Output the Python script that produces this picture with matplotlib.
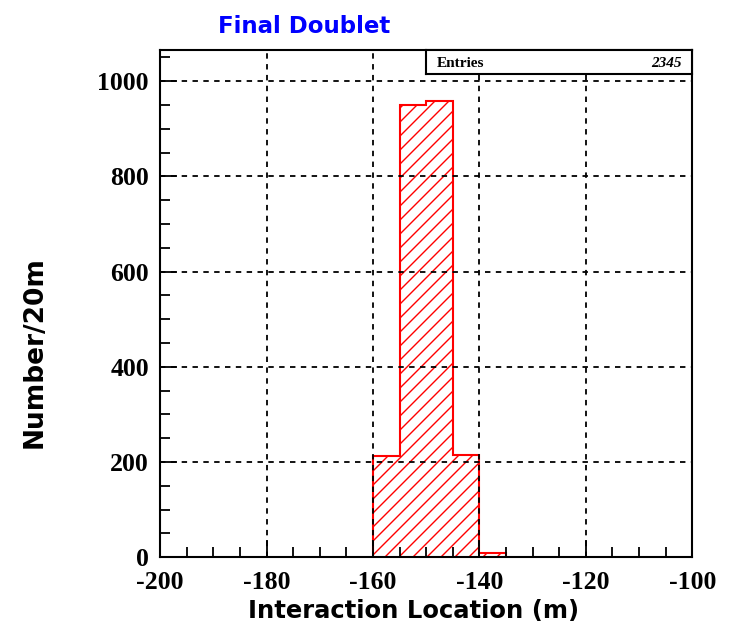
import numpy as np
import matplotlib.pyplot as plt
from matplotlib.ticker import MultipleLocator
from matplotlib.collections import LineCollection
from matplotlib.transforms import IdentityTransform

# Histogram of interaction locations, 5 m bins
bin_edges = [-160, -155, -150, -145, -140, -135]
counts = [213, 951, 959, 214, 8]
entries = 2345

plt.rcParams['axes.unicode_minus'] = False

fig = plt.figure(figsize=(7.31, 6.36), dpi=100)
ax = fig.add_axes([0.219, 0.124, 0.728, 0.797])

fill = ax.stairs(counts, bin_edges, fill=True, facecolor='none', edgecolor='none')
ax.stairs(counts, bin_edges, color='red', linewidth=1.5)

ax.set_xlim(-200, -100)
ax.set_ylim(0, 1065)

# diagonal hatching (pixel spacing), clipped to the histogram area
step = 14
segs = [[(c, 0), (c + 800, 800)] for c in range(-800, 800, step)]
hatch = LineCollection(segs, colors='red', linewidths=1.0,
                       transform=IdentityTransform())
ax.add_collection(hatch, autolim=False)
hatch.set_clip_path(fill)

ax.xaxis.set_major_locator(MultipleLocator(20))
ax.xaxis.set_minor_locator(MultipleLocator(5))
ax.yaxis.set_major_locator(MultipleLocator(200))
ax.yaxis.set_minor_locator(MultipleLocator(50))
ax.tick_params(which='both', direction='in', top=False, right=False,
               color='black', width=1.3)
ax.tick_params(which='major', length=12, pad=8)
ax.tick_params(axis='x', which='major', pad=10)
ax.tick_params(which='minor', length=7)
ax.grid(True, which='major', color='black', linestyle=(0, (3, 3)), linewidth=1.3)
ax.set_axisbelow(False)

for lbl in ax.get_xticklabels() + ax.get_yticklabels():
    lbl.set_fontfamily('Liberation Serif')
    lbl.set_fontweight('bold')
    lbl.set_fontsize(18.5)

for sp in ax.spines.values():
    sp.set_linewidth(1.5)

ax.set_xlabel('Interaction Location (m)', fontsize=17.5, fontweight='bold',
              family='DejaVu Sans')
ax.xaxis.set_label_coords(0.477, -0.083)
ax.set_ylabel('Number/20m', fontsize=19, fontweight='bold',
              family='DejaVu Sans')
ax.yaxis.set_label_coords(-0.212, 0.404)

fig.text(0.416, 0.958, 'Final Doublet', color='#0000ff', fontsize=16.5,
         fontweight='bold', family='DejaVu Sans', ha='center', va='center')

# Statistics box in the top-right corner
box = ax.inset_axes([0.5, 0.953, 0.5, 0.047])
box.set_xticks([])
box.set_yticks([])
box.patch.set_facecolor('white')
for sp in box.spines.values():
    sp.set_linewidth(1.5)
box.text(0.04, 0.45, 'Entries', fontsize=11, fontweight='bold',
         family='Liberation Serif', va='center', ha='left')
box.text(0.96, 0.45, str(entries), fontsize=11, fontweight='bold',
         family='Liberation Serif', va='center', ha='right', style='italic')

fig.savefig('out.png', dpi=100)
